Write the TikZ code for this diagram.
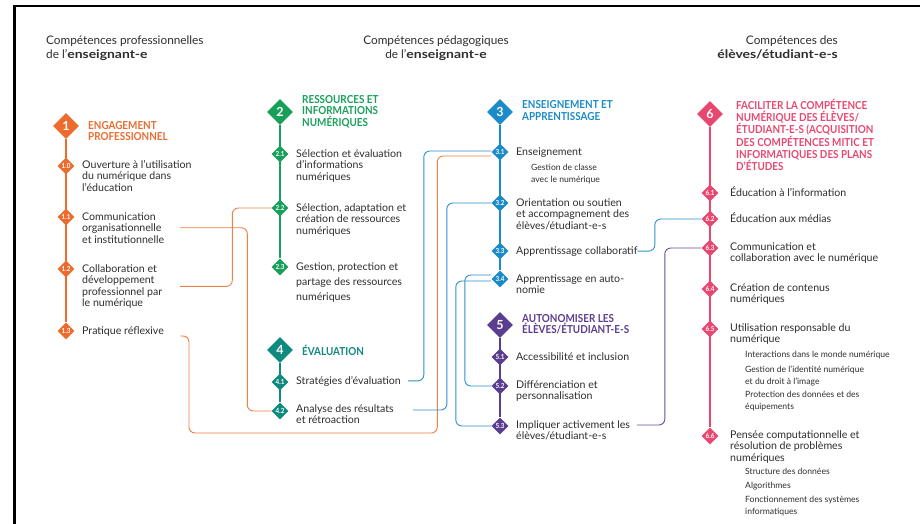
\documentclass[tikz,border=0pt]{standalone}
\usepackage{fontspec}
\setmainfont{Lato}
\newfontfamily\tfont{Lato}[FakeStretch=0.9]
\newfontfamily\hbf{Lato}[FakeStretch=1.18]
\usetikzlibrary{shapes.geometric,calc,backgrounds}
\definecolor{cOr}{HTML}{EC6B2D}
\definecolor{cOrL}{HTML}{EE8049}
\definecolor{cGr}{HTML}{18A05A}
\definecolor{cTe}{HTML}{0F8A7E}
\definecolor{cBl}{HTML}{1A8BC8}
\definecolor{cBlL}{HTML}{2A92CC}
\definecolor{cPu}{HTML}{5B3D90}
\definecolor{cPuL}{HTML}{6A4E9A}
\definecolor{cPk}{HTML}{E84870}
\definecolor{cTx}{HTML}{2E2E2E}
\newcommand{\ml}[1]{\vtop{\halign{##\hfil\cr#1\crcr}}}
\newcommand{\mlc}[1]{\vtop{\halign{\hfil##\hfil\cr#1\crcr}}}
\newcommand{\mlr}[1]{\vtop{\halign{\hfil##\cr#1\crcr}}}
\newcommand{\hb}[1]{{\hbf\bfseries #1}}
\tikzset{
  big/.style={diamond, aspect=1, minimum size=26pt, inner sep=0pt, fill=#1, text=white, font=\bfseries\fontsize{12.5}{12.5}\selectfont},
  sm/.style={diamond, aspect=1, minimum size=17pt, inner sep=0pt, fill=#1, text=white, font=\tfont\bfseries\fontsize{7}{7}\selectfont},
  txt/.style={anchor=base west, inner sep=0pt, text=cTx, font=\fontsize{10.6}{11.6}\selectfont},
  txtb/.style={anchor=base west, inner sep=0pt, text=cTx, font=\fontsize{10.6}{15}\selectfont},
  small/.style={anchor=base west, inner sep=0pt, text=cTx, font=\fontsize{8.6}{12}\selectfont},
  ttl/.style={anchor=base west, inner sep=0pt, text=#1, font=\tfont\bfseries\fontsize{11}{11.8}\selectfont},
  hdr/.style={inner sep=0pt, text=cTx, font=\fontsize{11.8}{14}\selectfont},
  spine/.style={line width=1.6pt, draw=#1},
  conn/.style={line width=0.9pt, draw=#1, rounded corners=6pt},
}
\begin{document}
\begin{tikzpicture}[x=1pt,y=-1pt]
\useasboundingbox (0,0) rectangle (920,524);
% headers
\node[hdr, anchor=base west] (h1) at (46,44.5) {\ml{Compétences professionnelles\cr de l’\hb{enseignant-e}}};
\node[hdr, anchor=base] (h2) at (436,44.5) {\mlc{Compétences pédagogiques\cr de l’\hb{enseignant-e}}};
\node[hdr, anchor=base east] (h3) at (838,44.5) {\mlr{Compétences des\cr \hb{élèves/étudiant-e-s}}};
% column 1
\node[big=cOr] (d1) at (66,126) {1};
\node[ttl=cOr] (ti1) at (88,129) {\ml{ENGAGEMENT\cr PROFESSIONNEL}};
\node[sm=cOr] (d10) at (66,166) {1.0};
\node[sm=cOr] (d11) at (66,217) {1.1};
\node[sm=cOr] (d12) at (66,269) {1.2};
\node[sm=cOr] (d13) at (66,331) {1.3};
\node[txt] (t10) at (82,168) {\ml{Ouverture à l’utilisation\cr du numérique dans\cr l’éducation}};
\node[txt] (t11) at (82,220) {\ml{Communication\cr organisationnelle\cr et institutionnelle}};
\node[txt] (t12) at (82,272) {\ml{Collaboration et\cr développement\cr professionnel par\cr le numérique}};
\node[txt] (t13) at (82,334) {\ml{Pratique réflexive}};
% column 2
\node[big=cGr] (d2) at (280,112) {2};
\node[ttl=cGr] (ti2) at (302,103) {\ml{RESSOURCES ET\cr INFORMATIONS\cr NUMÉRIQUES}};
\node[sm=cGr] (d21) at (280,154) {2.1};
\node[sm=cGr] (d22) at (280,208) {2.2};
\node[sm=cGr] (d23) at (280,267) {2.3};
\node[txt] (t21) at (296,157) {\ml{Sélection et évaluation\cr d’informations\cr numériques}};
\node[txt] (t22) at (296,211) {\ml{Sélection, adaptation et\cr création de ressources\cr numériques}};
\node[txtb] (t23) at (296,270) {\ml{Gestion, protection et\cr partage des ressources\cr numériques}};
% column 4
\node[big=cTe] (d4) at (280,350) {4};
\node[ttl=cTe] (ti4) at (302,355) {\ml{ÉVALUATION}};
\node[sm=cTe] (d41) at (280,382) {4.1};
\node[sm=cTe] (d42) at (280,411) {4.2};
\node[txt] (t41) at (296,384) {\ml{Stratégies d’évaluation}};
\node[txt] (t42) at (296,412) {\ml{Analyse des résultats\cr et rétroaction}};
% column 3
\node[big=cBl] (d3) at (500,112) {3};
\node[ttl=cBl] (ti3) at (522,109) {\ml{ENSEIGNEMENT ET\cr APPRENTISSAGE}};
\node[sm=cBl] (d31) at (500,152) {3.1};
\node[sm=cBl] (d32) at (500,203) {3.2};
\node[sm=cBl] (d33) at (500,251) {3.3};
\node[sm=cBl] (d34) at (500,279) {3.4};
\node[txt] (t31) at (516,155) {\ml{Enseignement}};
\node[small] (s31) at (531,170) {\ml{Gestion de classe\cr avec le numérique}};
\node[txt] (t32) at (516,206) {\ml{Orientation ou soutien\cr et accompagnement des\cr élèves/étudiant-e-s}};
\node[txt] (t33) at (516,254) {\ml{Apprentissage collaboratif}};
\node[txt] (t34) at (516,282) {\ml{Apprentissage en auto-\cr nomie}};
% column 5
\node[big=cPu] (d5) at (500,325) {5};
\node[ttl=cPu] (ti5) at (522,322) {\ml{AUTONOMISER LES\cr ÉLÈVES/ÉTUDIANT-E-S}};
\node[sm=cPu] (d51) at (500,357) {5.1};
\node[sm=cPu] (d52) at (500,386) {5.2};
\node[sm=cPu] (d53) at (500,426) {5.3};
\node[txt] (t51) at (516,360) {\ml{Accessibilité et inclusion}};
\node[txt] (t52) at (516,388) {\ml{Différenciation et\cr personnalisation}};
\node[txt] (t53) at (516,428) {\ml{Impliquer activement les\cr élèves/étudiant-e-s}};
% column 6
\node[big=cPk] (d6) at (710,114) {6};
\node[ttl=cPk] (ti6) at (736,110) {\ml{FACILITER LA COMPÉTENCE\cr NUMÉRIQUE DES ÉLÈVES/\cr ÉTUDIANT-E-S (ACQUISITION\cr DES COMPÉTENCES MITIC ET\cr INFORMATIQUES DES PLANS\cr D’ÉTUDES}};
\node[sm=cPk] (d61) at (710,193) {6.1};
\node[sm=cPk] (d62) at (710,219) {6.2};
\node[sm=cPk] (d63) at (710,248) {6.3};
\node[sm=cPk] (d64) at (710,289) {6.4};
\node[sm=cPk] (d65) at (710,329) {6.5};
\node[sm=cPk] (d66) at (710,436) {6.6};
\node[txt] (t61) at (730,196) {\ml{Éducation à l’information}};
\node[txt] (t62) at (730,222) {\ml{Éducation aux médias}};
\node[txt] (t63) at (730,250) {\ml{Communication et\cr collaboration avec le numérique}};
\node[txt] (t64) at (730,291) {\ml{Création de contenus\cr numériques}};
\node[txt] (t65) at (730,331) {\ml{Utilisation responsable du\cr numérique}};
\node[small] (s651) at (745,357.5) {\ml{Interactions dans le monde numérique}};
\node[small] (s652) at (745,372.5) {\ml{Gestion de l’identité numérique\cr et du droit à l’image}};
\node[small] (s653) at (745,397.5) {\ml{Protection des données et des\cr équipements}};
\node[txt] (t66) at (730,438) {\ml{Pensée computationnelle et\cr résolution de problèmes\cr numériques}};
\node[small] (s661) at (745,474.5) {\ml{Structure des données}};
\node[small] (s662) at (745,488.5) {\ml{Algorithmes}};
\node[small] (s663) at (745,502.5) {\ml{Fonctionnement des systèmes\cr informatiques}};
% background: frame and spines
\begin{scope}[on background layer]
\fill[white] (0,0) rectangle (920,524);
\draw[line width=2.3pt] (14.5,524) -- (14.5,5.7) -- (920,5.7);
\draw[spine=cOr] (d1) -- (d13);
\draw[spine=cGr] (d2) -- (d23);
\draw[spine=cTe] (d4) -- (d42);
\draw[spine=cBl] (d3) -- (d34);
\draw[spine=cPu] (d5) -- (d53);
\draw[spine=cPk] (d6) -- (d66);
\end{scope}
% connectors
\coordinate (x180) at (180,0);
\coordinate (x408) at (408,0);
\coordinate (x413) at (413,0);
\coordinate (x637) at (637,0);
\draw[conn=cOrL] (t11.east -| x180) -| ([xshift=-24pt]d42.west) -- (d42.west);
\draw[conn=cOrL] (t12.east -| x180) -| ([xshift=-39pt]d22.west) -- (d22.west);
\draw[conn=cOrL] ($(t13.base -| x180)+(0,2)$) -| (189,433) -| ([xshift=-54pt,yshift=-4pt]d31.west) -- ([yshift=-4pt]d31.west);
\draw[conn=cBlL] (t41.east -| x408) -| ([xshift=-67.5pt,yshift=1pt]d31.west) -- ([yshift=1pt]d31.west);
\draw[conn=cBlL] ($(t42.base -| x413)+(0,-2)$) -| ([xshift=-44.5pt]d32.west) -- (d32.west);
\draw[conn=cBlL] ([yshift=4pt]d34.west) -| ([xshift=-26.5pt]d52.west) -- (d52.west);
\draw[conn=cBlL] ([yshift=-2pt]d34.west) -| ([xshift=-35.5pt]d53.west) -- (d53.west);
\draw[conn=cBlL] (t33.east) -| ([xshift=-46.5pt]d62.west) -- (d62.west);
\draw[conn=cPuL] ($(t53.base -| x637)+(0,-3)$) -| ([xshift=-36.5pt]d63.west) -- (d63.west);
\end{tikzpicture}
\end{document}
